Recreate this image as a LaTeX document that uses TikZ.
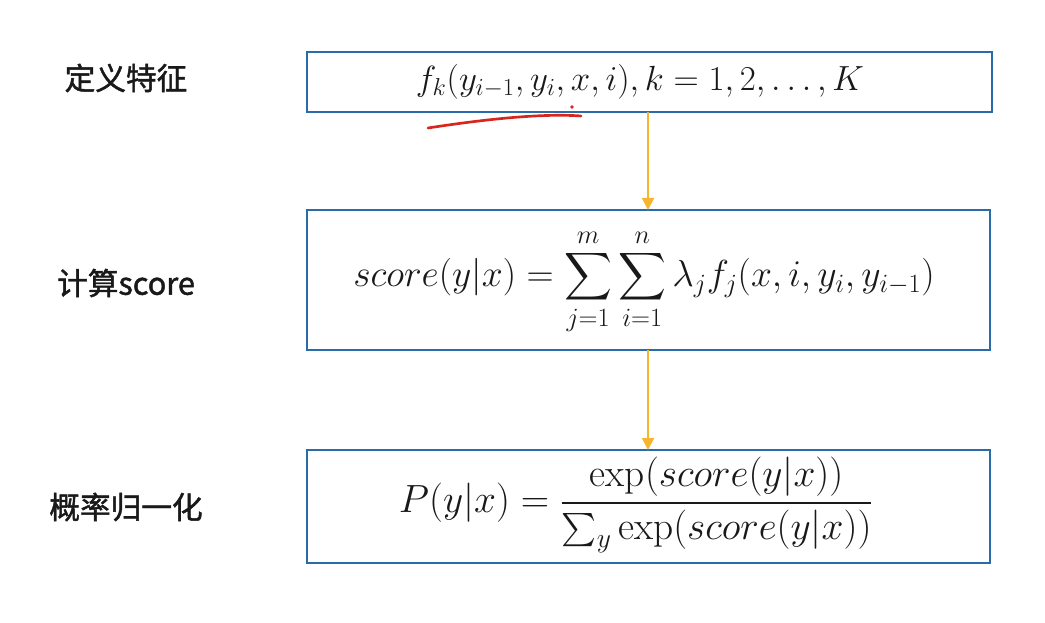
\RequirePackage{fix-cm}
\documentclass[tikz,border=0pt]{standalone}
\usepackage{fontspec}
\usepackage{amsmath}
\newfontfamily\cjk[BoldFont={Noto Sans CJK SC},BoldFeatures={FakeBold=1.5}]{Noto Sans CJK SC}
\usetikzlibrary{arrows.meta}
\definecolor{boxblue}{HTML}{2A6BAA}
\definecolor{arroworange}{HTML}{F7B431}
\definecolor{penred}{HTML}{D9261C}
\tikzset{
  stepbox/.style={draw=boxblue, line width=1.6pt, fill=white},
  flow/.style={draw=arroworange, line width=1.5pt, -{Triangle[length=9pt,width=9pt]}},
  lbl/.style={font=\cjk\bfseries\fontsize{23}{28}\selectfont, text=black!90},
  eq/.style={text=black!90}
}
\begin{document}
\begin{tikzpicture}[x=0.75pt,y=-0.75pt]
\useasboundingbox (0,0) rectangle (1045,623);
% boxes
\path[stepbox] (307,52) rectangle (992,112);
\path[stepbox] (307,210) rectangle (990,350);
\path[stepbox] (307,450) rectangle (990,563);
\coordinate (b1s) at (648,112);
\coordinate (b2n) at (648,210);
\coordinate (b2s) at (648,350);
\coordinate (b3n) at (648,450);
% arrows
\draw[flow] (b1s) -- (b2n);
\draw[flow] (b2s) -- (b3n);
% formulas
\node[eq, font=\fontsize{26.2}{31}\selectfont] (f1) at (640,82) {$f_k(y_{i-1},y_i,x,i), k=1,2,\ldots,K$};
\node[eq, font=\fontsize{28.2}{34}\selectfont] (f2) at (644,282) {$\displaystyle score(y|x)=\sum_{j=1}^{m}\sum_{i=1}^{n}\lambda_j f_j(x,i,y_i,y_{i-1})$};
\node[eq, font=\fontsize{29.5}{35}\selectfont] (f3) at (636,505) {$\displaystyle P(y|x)=\frac{\exp(score(y|x))}{\textstyle\sum_y \exp(score(y|x))}$};
% labels
\node[lbl] (l1) at (126,78) {定义特征};
\node[lbl] (l2) at (126,283) {计算score};
\node[lbl] (l3) at (126,507) {概率归一化};
% red pen annotation
\draw[penred, line width=2pt, line cap=round] (428,128) .. controls (480,120) and (540,113) .. (581,116);
\fill[penred] (572,107) circle (1.8);
\end{tikzpicture}
\end{document}
